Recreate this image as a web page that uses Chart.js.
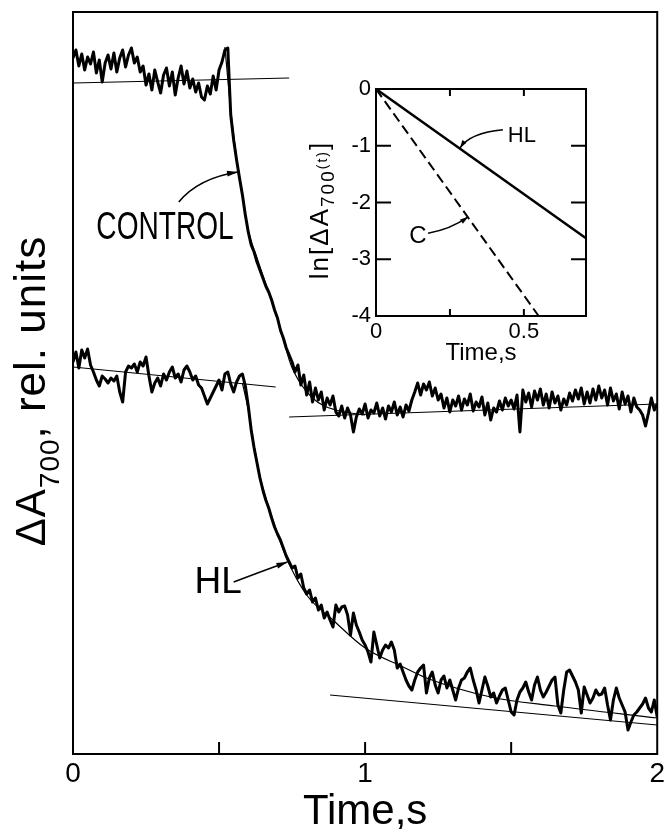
<!DOCTYPE html>
<html lang="en">
<head>
<meta charset="UTF-8">
<title>ΔA700 kinetics, control and HL</title>
<style>
  body { margin: 0; background: #fff; }
  #wrap { position: relative; width: 668px; height: 829px; overflow: hidden; }
  #main { position: absolute; left: 0; top: 0; }
  #inset { position: absolute; left: 280px; top: 60px; }
</style>
<script src="https://cdn.jsdelivr.net/npm/chart.js@4"></script>
</head>
<body>
<div id="wrap">
  <canvas id="main" width="668" height="829"></canvas>
  <canvas id="inset" width="330" height="320"></canvas>
</div>
<script>
// recorded traces, one sample every 0.01 s from 0 to 2 s (rel. units)
const dt = 0.01;

const controlTrace = [
  6.96, 7.04, 6.88, 7.00, 6.84, 6.97, 6.90, 7.02, 6.81, 6.94,
  6.72, 6.91, 6.99, 6.85, 7.01, 6.82, 6.96, 7.04, 6.87, 6.99,
  7.06, 6.91, 6.97, 6.82, 6.88, 6.69, 6.80, 6.64, 6.84, 6.72,
  6.61, 6.79, 6.86, 6.68, 6.82, 6.59, 6.76, 6.88, 6.70, 6.83,
  6.66, 6.75, 6.62, 6.71, 6.57, 6.54, 6.68, 6.60, 6.78, 6.64,
  6.84, 6.92, 7.04, 7.06, 6.39, 6.14, 5.94, 5.76, 5.59, 5.39,
  5.22, 5.09, 5.02, 4.92, 4.84, 4.76, 4.68, 4.62, 4.54, 4.44,
  4.36, 4.24, 4.16, 4.06, 3.99, 3.92, 3.82, 3.89, 3.69, 3.79,
  3.59, 3.72, 3.52, 3.66, 3.54, 3.62, 3.44, 3.56, 3.49, 3.58,
  3.42, 3.38, 3.48, 3.36, 3.46, 3.39, 3.22, 3.37, 3.45, 3.40,
  3.50, 3.36, 3.44, 3.41, 3.51, 3.38, 3.46, 3.35, 3.48, 3.42,
  3.52, 3.39, 3.47, 3.37, 3.49, 3.43, 3.54, 3.62, 3.71, 3.59,
  3.70, 3.64, 3.72, 3.58, 3.66, 3.54, 3.60, 3.46, 3.56, 3.42,
  3.54, 3.48, 3.58, 3.44, 3.55, 3.49, 3.60, 3.43, 3.52, 3.47,
  3.57, 3.39, 3.51, 3.34, 3.46, 3.42, 3.53, 3.44, 3.56, 3.48,
  3.54, 3.45, 3.59, 3.22, 3.64, 3.52, 3.61, 3.47, 3.63, 3.54,
  3.65, 3.49, 3.60, 3.46, 3.62, 3.51, 3.58, 3.44, 3.55, 3.49,
  3.61, 3.53, 3.64, 3.55, 3.66, 3.50, 3.62, 3.51, 3.65, 3.54,
  3.68, 3.56, 3.64, 3.49, 3.66, 3.53, 3.60, 3.45, 3.62, 3.50,
  3.58, 3.42, 3.56, 3.47, 3.44, 3.39, 3.28, 3.41, 3.56, 3.44,
  3.50
];

const hlTrace = [
  3.92, 4.02, 3.86, 4.04, 3.96, 4.05, 3.89, 3.82, 3.74, 3.68,
  3.78, 3.75, 3.71, 3.76, 3.73, 3.78, 3.62, 3.52, 3.82, 3.88,
  3.86, 3.90, 3.82, 3.92, 3.88, 3.97, 3.78, 3.62, 3.71, 3.76,
  3.68, 3.80, 3.74, 3.82, 3.87, 3.76, 3.80, 3.72, 3.84, 3.88,
  3.82, 3.74, 3.78, 3.69, 3.66, 3.58, 3.50, 3.56, 3.62, 3.68,
  3.74, 3.64, 3.80, 3.82, 3.70, 3.62, 3.72, 3.78, 3.80, 3.68,
  3.48, 3.24, 3.06, 2.91, 2.76, 2.64, 2.54, 2.46, 2.36, 2.27,
  2.20, 2.14, 2.06, 1.98, 1.92, 1.86, 1.88, 1.76, 1.80, 1.66,
  1.60, 1.64, 1.52, 1.56, 1.44, 1.49, 1.36, 1.42, 1.34, 1.27,
  1.49, 1.42, 1.47, 1.48, 1.39, 1.19, 1.41, 1.29, 1.22, 1.14,
  1.09, 1.02, 0.92, 1.22, 1.09, 0.96, 1.04, 1.09, 1.06, 1.12,
  1.04, 0.86, 0.90, 0.82, 0.74, 0.68, 0.64, 0.74, 0.82, 0.86,
  0.89, 0.61, 0.76, 0.82, 0.69, 0.61, 0.74, 0.78, 0.66, 0.74,
  0.64, 0.54, 0.66, 0.74, 0.76, 0.82, 0.86, 0.74, 0.64, 0.51,
  0.64, 0.77, 0.68, 0.57, 0.61, 0.51, 0.58, 0.64, 0.66, 0.54,
  0.42, 0.39, 0.54, 0.62, 0.66, 0.72, 0.62, 0.54, 0.69, 0.77,
  0.64, 0.57, 0.62, 0.68, 0.74, 0.77, 0.49, 0.41, 0.64, 0.82,
  0.84, 0.78, 0.72, 0.64, 0.41, 0.67, 0.59, 0.51, 0.56, 0.64,
  0.59, 0.60, 0.66, 0.49, 0.34, 0.54, 0.66, 0.56, 0.49, 0.42,
  0.24, 0.32, 0.39, 0.42, 0.46, 0.50, 0.56, 0.46, 0.42, 0.54,
  0.37
];

// thin fitted lines drawn over the traces
const controlPreT = [0, 0.74];
const controlPreV = [6.71, 6.76];
const controlPostT = [0.74, 2];
const controlPostV = [3.37, 3.50];
const controlFitT = [0.52, 0.54, 0.56, 0.58, 0.60, 0.63, 0.66, 0.70, 0.745, 0.78, 0.82, 0.86, 0.90, 0.95, 1.00];
const controlFitV = [7.07, 6.44, 5.96, 5.60, 5.24, 4.96, 4.70, 4.36, 3.90, 3.70, 3.56, 3.48, 3.44, 3.41, 3.39];
const hlPreT = [0, 0.694];
const hlPreV = [3.87, 3.67];
const hlFitT = [0.58, 0.60, 0.62, 0.643, 0.69, 0.734, 0.80, 0.89, 1.00, 1.13, 1.21, 1.43, 1.65, 2.00];
const hlFitV = [3.71, 3.44, 3.09, 2.74, 2.29, 1.94, 1.59, 1.34, 1.06, 0.87, 0.76, 0.57, 0.48, 0.36];
const hlAsymT = [0.88, 2];
const hlAsymV = [0.59, 0.29];

// inset: ln[ΔA700(t)] against time
const insetHlT = [0, 0.71];
const insetHlV = [0, -2.63];
const insetCT = [0, 0.55];
const insetCV = [0, -4];

const mainXTicks = [0.5, 1, 1.5];
const insetXTicks = [0.25, 0.5];
const insetYTicks = [-1, -2, -3];

const FONT = "'Liberation Sans', Arial, Helvetica, sans-serif";
Chart.defaults.font.family = FONT;
Chart.defaults.color = '#000';

const pts = (xs, ys) => ys.map((y, i) => ({ x: xs[i], y: y }));
const traceT = controlTrace.map((_, i) => Math.round(i * dt * 100) / 100);

function line(data, width, extra) {
  return Object.assign({
    data: data, borderColor: '#000', borderWidth: width, pointRadius: 0,
    tension: 0, fill: false, borderJoinStyle: 'round'
  }, extra || {});
}

function arrow(ctx, p, len, w) {
  const [x0, y0, cx, cy, x1, y1] = p;
  ctx.beginPath();
  ctx.moveTo(x0, y0);
  ctx.quadraticCurveTo(cx, cy, x1, y1);
  ctx.stroke();
  const a = Math.atan2(y1 - cy, x1 - cx);
  const bx = x1 - len * Math.cos(a), by = y1 - len * Math.sin(a);
  ctx.beginPath();
  ctx.moveTo(x1, y1);
  ctx.lineTo(bx + w * Math.sin(a), by - w * Math.cos(a));
  ctx.lineTo(bx - w * Math.sin(a), by + w * Math.cos(a));
  ctx.closePath();
  ctx.fill();
}

function rotatedTitle(ctx, t) {
  ctx.save();
  ctx.translate(t.x, t.y);
  ctx.rotate(-Math.PI / 2);
  ctx.letterSpacing = t.spacing || '0px';
  ctx.textAlign = 'left';
  ctx.textBaseline = 'alphabetic';
  let total = 0;
  const widths = t.pieces.map(p => {
    ctx.font = p[1] + 'px ' + FONT;
    const w = ctx.measureText(p[0]).width;
    total += w;
    return w;
  });
  let x = -total / 2;
  t.pieces.forEach((p, i) => {
    ctx.font = p[1] + 'px ' + FONT;
    ctx.fillText(p[0], x, p[2]);
    x += widths[i];
  });
  ctx.restore();
}

// frame with inward ticks, labels with arrows, rotated y title
const decor = {
  id: 'decor',
  afterDraw(chart, args, o) {
    const { ctx, chartArea: a } = chart;
    const sx = chart.scales.x, sy = chart.scales.y;
    ctx.save();
    ctx.strokeStyle = '#000';
    ctx.fillStyle = '#000';
    ctx.lineWidth = o.frame;
    ctx.strokeRect(a.left, a.top, a.width, a.height);
    ctx.beginPath();
    o.xTicks.forEach(v => {
      const p = sx.getPixelForValue(v);
      ctx.moveTo(p, a.bottom); ctx.lineTo(p, a.bottom - o.xTickLen);
      if (o.mirror) { ctx.moveTo(p, a.top); ctx.lineTo(p, a.top + o.xTickLen); }
    });
    o.yTicks.forEach(v => {
      const p = sy.getPixelForValue(v);
      ctx.moveTo(a.left, p); ctx.lineTo(a.left + o.yTickLen, p);
      if (o.mirror) { ctx.moveTo(a.right, p); ctx.lineTo(a.right - o.yTickLen, p); }
    });
    ctx.stroke();

    ctx.lineWidth = o.arrowWidth;
    o.notes.forEach(n => {
      const px = sx.getPixelForValue(n.x), py = sy.getPixelForValue(n.y);
      ctx.save();
      ctx.translate(px, py);
      ctx.scale(n.sx || 1, 1);
      ctx.font = n.size + 'px ' + FONT;
      ctx.textAlign = 'center';
      ctx.textBaseline = 'middle';
      ctx.fillText(n.text, 0, 0);
      ctx.restore();
      const p = [];
      for (let i = 0; i < 6; i += 2) {
        p.push(sx.getPixelForValue(n.arrow[i]), sy.getPixelForValue(n.arrow[i + 1]));
      }
      arrow(ctx, p, o.headLen, o.headW);
    });
    ctx.restore();
    rotatedTitle(ctx, o.yTitle);
  }
};

new Chart(document.getElementById('main'), {
  type: 'line',
  plugins: [decor],
  data: {
    datasets: [
      line(pts(controlFitT, controlFitV), 1.2, { cubicInterpolationMode: 'monotone' }),
      line(pts(hlFitT, hlFitV), 1.2, { cubicInterpolationMode: 'monotone' }),
      line(pts(controlPreT, controlPreV), 1.2),
      line(pts(controlPostT, controlPostV), 1.2),
      line(pts(hlPreT, hlPreV), 1.2),
      line(pts(hlAsymT, hlAsymV), 1.2),
      line(pts(traceT, controlTrace), 3),
      line(pts(traceT, hlTrace), 3)
    ]
  },
  options: {
    responsive: false,
    animation: false,
    layout: { autoPadding: false, padding: { top: 12, right: 4, left: 0, bottom: 0 } },
    plugins: {
      legend: { display: false },
      tooltip: { enabled: false },
      decor: {
        frame: 2, xTicks: mainXTicks, xTickLen: 12, yTicks: [], yTickLen: 0, mirror: false,
        arrowWidth: 1.6, headLen: 11, headW: 3,
        notes: [
          { text: 'CONTROL', x: 0.315, y: 5.26, size: 39, sx: 0.72, arrow: [0.362, 5.52, 0.43, 5.76, 0.565, 5.82] },
          { text: 'HL', x: 0.497, y: 1.71, size: 37, arrow: [0.55, 1.72, 0.64, 1.82, 0.734, 1.92] }
        ],
        yTitle: { x: 45, y: 391, spacing: '1px', pieces: [['ΔA', 42, 0], ['700', 28, 14], [', rel. units', 44, 0]] }
      }
    },
    scales: {
      x: {
        type: 'linear', min: 0, max: 2,
        grid: { display: false, drawTicks: false },
        border: { display: false },
        ticks: {
          stepSize: 0.5, padding: 3, maxRotation: 0, autoSkip: false,
          font: { size: 28 },
          callback: v => (v % 1 === 0 ? String(v) : '')
        },
        title: { display: true, text: 'Time,s', font: { size: 42, lineHeight: 1 }, padding: { top: 0, bottom: -4 } },
        afterFit(s) { s.height = 75; }
      },
      y: {
        type: 'linear', min: 0, max: 7.42,
        grid: { display: false, drawTicks: false },
        border: { display: false },
        ticks: { display: false },
        afterFit(s) { s.width = 73; }
      }
    }
  }
});

new Chart(document.getElementById('inset'), {
  type: 'line',
  plugins: [decor],
  data: {
    datasets: [
      line(pts(insetHlT, insetHlV), 2.5),
      line(pts(insetCT, insetCV), 2, { borderDash: [10, 5] })
    ]
  },
  options: {
    responsive: false,
    animation: false,
    layout: { autoPadding: false, padding: { top: 29, right: 24, left: 0, bottom: 0 } },
    plugins: {
      legend: { display: false },
      tooltip: { enabled: false },
      decor: {
        frame: 2, xTicks: insetXTicks, xTickLen: 7, yTicks: insetYTicks, yTickLen: 15, mirror: true,
        arrowWidth: 1.5, headLen: 8, headW: 2.5,
        notes: [
          { text: 'HL', x: 0.493, y: -0.83, size: 22, arrow: [0.429, -0.72, 0.318, -0.775, 0.284, -1.04] },
          { text: 'C', x: 0.142, y: -2.59, size: 24, arrow: [0.176, -2.54, 0.25, -2.48, 0.311, -2.255] }
        ],
        yTitle: { x: 48, y: 150, spacing: '2px', pieces: [['ln[ΔA', 26, 0], ['700', 19, 6], ['(t)', 14, -1], [']', 26, 0]] }
      }
    },
    scales: {
      x: {
        type: 'linear', min: 0, max: 0.71,
        grid: { display: false, drawTicks: false },
        border: { display: false },
        ticks: {
          stepSize: 0.25, includeBounds: false, padding: 3, maxRotation: 0, autoSkip: false,
          font: { size: 22 },
          callback: v => (Math.abs(v) < 1e-9 ? '0' : Math.abs(v - 0.5) < 1e-9 ? '0.5' : '')
        },
        title: { display: true, text: 'Time,s', font: { size: 24, lineHeight: 1 }, padding: { top: 0, bottom: 15 } },
        afterFit(s) { s.height = 64; }
      },
      y: {
        type: 'linear', min: -4, max: 0,
        grid: { display: false, drawTicks: false },
        border: { display: false },
        ticks: { stepSize: 1, padding: 5, font: { size: 22 } },
        afterFit(s) { s.width = 96; }
      }
    }
  }
});
</script>
</body>
</html>
